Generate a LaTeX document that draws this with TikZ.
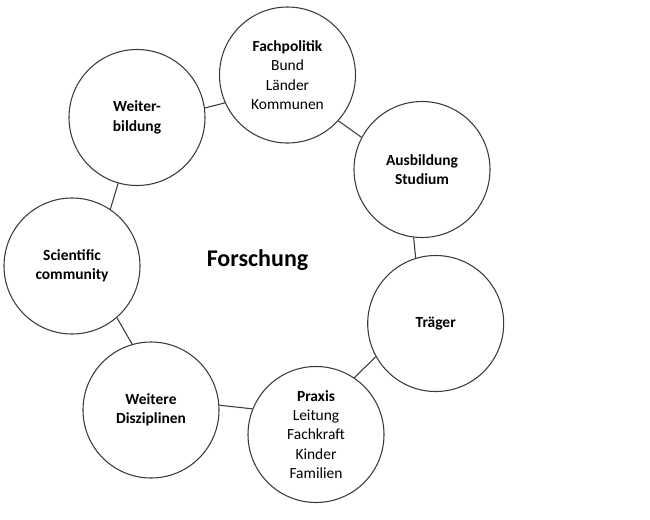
\documentclass[tikz,border=0pt]{standalone}
\usepackage{fontspec}
\setmainfont{Carlito}
\begin{document}
\begin{tikzpicture}[x=0.75pt,y=-0.75pt,font=\fontsize{11.6}{14.5}\selectfont,
  ring/.style={circle,draw=ringline,line width=0.8pt,minimum size=102pt,
    inner sep=0pt,align=center},
  tie/.style={draw=ringline,line width=0.8pt}]
  \definecolor{ringline}{HTML}{3A3A3A}
  \path[use as bounding box] (0,0) rectangle (650,519);
  \node[ring] (fp) at (287.5,75)   {\textbf{Fachpolitik}\\Bund\\Länder\\Kommunen};
  \node[ring] (as) at (422,169.5)  {\textbf{Ausbildung}\\\textbf{Studium}};
  \node[ring] (tr) at (435.7,323.5) {\textbf{Träger}};
  \node[ring] (pr) at (316,434.5)  {\textbf{Praxis}\\Leitung\\Fachkraft\\Kinder\\Familien};
  \node[ring] (wd) at (151,410)    {\textbf{Weitere}\\\textbf{Disziplinen}};
  \node[ring] (sc) at (72,266)     {\textbf{Scientific}\\\textbf{community}};
  \node[ring] (wb) at (137,117.5)  {\textbf{Weiter-}\\\textbf{bildung}};
  \node[font=\bfseries\fontsize{18}{22}\selectfont] (fo) at (257.5,260) {Forschung};
  % short links round the ring
  \foreach \a/\b in {wb.8/fp.204, fp.-42/as.152, as.-97/tr.107,
    tr.209/pr.56, pr.158/wd.4, wd.106/sc.-49, sc.56/wb.-106}{
    \path[tie] (\a) -- (\b);
  }
\end{tikzpicture}
\end{document}
